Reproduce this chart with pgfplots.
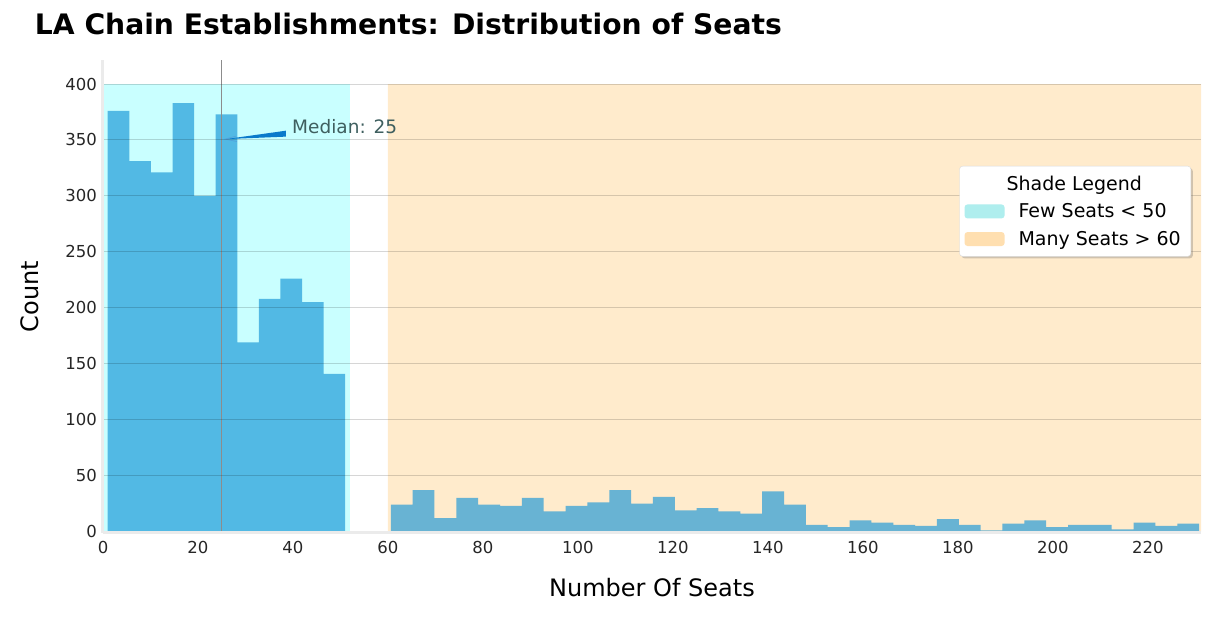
\documentclass[border=0pt]{standalone}
\usepackage{fontspec}
\setmainfont{DejaVu Sans}
\usepackage{pgfplots}
\pgfplotsset{compat=1.18}
\usetikzlibrary{shadows}
\definecolor{barL}{HTML}{52B9E4}
\definecolor{barR}{HTML}{68B3D3}
\definecolor{shadeC}{HTML}{C9FFFF}
\definecolor{shadeO}{HTML}{FFEBCC}
\definecolor{legC}{HTML}{AFEEEE}
\definecolor{legO}{HTML}{FFDFB0}
\definecolor{spine}{HTML}{EBEBEB}
\definecolor{medtext}{HTML}{3F5F5F}
\definecolor{arrowc}{HTML}{0A7ACB}
\begin{document}
\begin{tikzpicture}
\begin{axis}[
  name=ax,
  scale only axis,
  width=1098pt, height=473pt,
  xmin=0, xmax=231.2, ymin=-1.3, ymax=421.5,
  axis x line=bottom, axis y line=left,
  axis line style={draw=spine, line width=3pt, -},
  xtick={0,20,...,220}, ytick={0,50,...,400},
  major tick length=0pt,
  ymajorgrids, major grid style={black, opacity=0.16, line width=1pt},
  axis on top,
  tick label style={font=\fontsize{16.5}{19}\selectfont, text=black!85},
  xticklabel style={inner sep=0pt, yshift=-8pt},
  yticklabel style={inner sep=0pt, xshift=-6pt},
  /pgf/number format/assume math mode=true,
  xlabel={Number Of Seats}, ylabel={Count},
  xlabel style={at={(axis description cs:0.5,-0.1163)}, anchor=center, font=\fontsize{24}{28}\selectfont},
  ylabel style={at={(axis description cs:-0.0665,0.5)}, anchor=center, font=\fontsize{24}{28}\selectfont},
  legend cell align=left,
  legend style={
    at={(0.9909,0.7759)}, anchor=north east,
    draw=black!15, fill=white, rounded corners=3pt,
    drop shadow={shadow xshift=2pt, shadow yshift=-2pt, opacity=0.3, fill=black!60},
    font=\fontsize{19}{23}\selectfont,
    inner xsep=5pt, inner ysep=7.5pt,
    row sep=8pt, column sep=12pt,
    nodes={inner sep=2pt},
  },
]
\addplot[fill=shadeC, draw=none, forget plot] coordinates {(0,0)(0,400)(52,400)(52,0)} \closedcycle;
\addplot[fill=shadeO, draw=none, forget plot] coordinates {(60,0)(60,400)(231.2,400)(231.2,0)} \closedcycle;
\addplot[const plot, fill=barL, draw=none, forget plot] coordinates {
(1,376) (5.545,331) (10.091,321) (14.636,383) (19.182,300) (23.727,373)
(28.273,169) (32.818,208) (37.364,226) (41.909,205) (46.455,141) (51,141)
} \closedcycle;
\addplot[const plot, fill=barR, draw=none, forget plot] coordinates {
(60.6,24) (65.2,37) (69.8,12) (74.4,30) (79.0,24) (83.6,23) (88.2,30) (92.8,18)
(97.4,23) (102.0,26) (106.6,37) (111.2,25) (115.8,31) (120.4,19) (125.0,21)
(129.6,18) (134.2,16) (138.8,36) (143.4,24) (148.0,6) (152.6,4) (157.2,10)
(161.8,8) (166.4,6) (171.0,5) (175.6,11) (180.2,6) (184.8,1) (189.4,7)
(194.0,10) (198.6,4) (203.2,6) (207.8,6) (212.4,2) (217.0,8) (221.6,5)
(226.2,7) (230.8,7)
} \closedcycle;
\addplot[color=black!45, line width=0.9pt, forget plot] coordinates {(25,-1.3)(25,421.5)};
\fill[arrowc] (axis cs:25.9,350.8) -- (axis cs:38.5,358.3) -- (axis cs:38.5,353.0) -- cycle;
\draw[arrowc!70, line width=0.7pt] (axis cs:28.0,353.4) -- (axis cs:25.7,350.8) -- (axis cs:28.2,348.6);
\node[anchor=base west, inner sep=0pt, text=medtext, font=\fontsize{18.5}{22}\selectfont] at (axis cs:39.8,355.4) {Median: 25};
\addlegendimage{empty legend}
\addlegendentry{\hspace*{-12pt}Shade Legend}
\addlegendimage{legend image code/.code={\pgfsetfillcolor{legC}\pgfpathrectangle{\pgfpoint{0pt}{-7pt}}{\pgfpoint{40pt}{14pt}}\pgfusepath{fill}}}
\addlegendentry{Few Seats < 50\hspace*{3pt}}
\addlegendimage{legend image code/.code={\pgfsetfillcolor{legO}\pgfpathrectangle{\pgfpoint{0pt}{-7pt}}{\pgfpoint{40pt}{14pt}}\pgfusepath{fill}}}
\addlegendentry{Many Seats > 60\hspace*{3pt}}
\end{axis}
\node[anchor=base west, inner sep=0pt, font=\fontsize{28.2}{32}\selectfont\bfseries] at ([xshift=-68.3pt,yshift=498pt]ax.south west) {LA Chain Establishments: Distribution of Seats};
\pgfresetboundingbox
\path[use as bounding box] ([xshift=-103pt,yshift=-85pt]ax.south west) rectangle ([xshift=1120pt,yshift=533pt]ax.south west);
\end{tikzpicture}
\end{document}
